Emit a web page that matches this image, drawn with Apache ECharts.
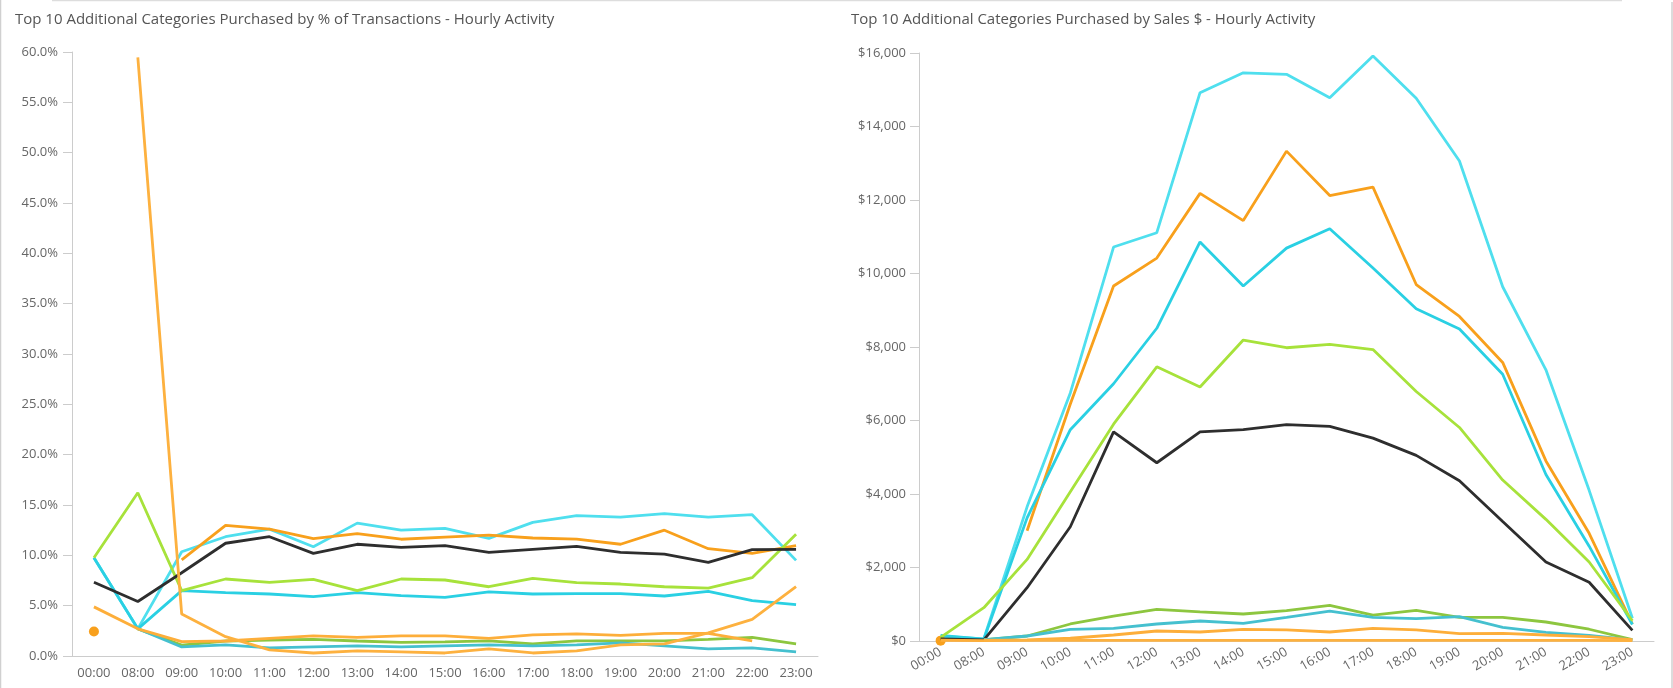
<!DOCTYPE html>
<html>
<head>
<meta charset="utf-8">
<script src="https://cdn.jsdelivr.net/npm/echarts@6/dist/echarts.min.js"></script>
<style>
html,body{margin:0;padding:0;background:#fff;}
#chart{width:1673px;height:688px;}
</style>
</head>
<body>
<div id="chart"></div>
<script>
const hours = ['00:00','08:00','09:00','10:00','11:00','12:00','13:00','14:00','15:00','16:00','17:00','18:00','19:00','20:00','21:00','22:00','23:00'];

const titleLeft = 'Top 10 Additional Categories Purchased by % of Transactions - Hourly Activity';
const titleRight = 'Top 10 Additional Categories Purchased by Sales $ - Hourly Activity';

const seriesNames = ['Category A','Category B','Category C','Category D','Category E','Category F','Category G','Category H','Category I'];
const seriesColors = ['#4FDFEE','#F8A01C','#2AD0E3','#A7E23B','#2E2E2E','#8DC63F','#45C0CF','#FDAE3A','#FDB13F'];

// % of transactions
const pctA = [9.76, 2.70, 10.36, 11.85, 12.6, 10.86, 13.2, 12.5, 12.68, 11.69, 13.28, 13.94, 13.8, 14.14, 13.8, 14.04, 9.5];
const pctB = [2.44, null, 9.54, 12.98, 12.6, 11.65, 12.15, 11.6, 11.8, 12.0, 11.72, 11.62, 11.1, 12.5, 10.66, 10.2, 10.96];
const pctC = [9.76, 2.70, 6.49, 6.29, 6.16, 5.9, 6.29, 5.99, 5.83, 6.36, 6.16, 6.19, 6.19, 5.96, 6.43, 5.5, 5.1];
const pctD = [9.76, 16.22, 6.49, 7.65, 7.32, 7.62, 6.49, 7.65, 7.55, 6.88, 7.72, 7.28, 7.15, 6.88, 6.75, 7.78, 12.1];
const pctE = [7.32, 5.41, 8.27, 11.2, 11.85, 10.2, 11.1, 10.8, 10.96, 10.3, 10.6, 10.9, 10.3, 10.13, 9.3, 10.56, 10.6];
const pctF = [null, 2.70, 1.09, 1.49, 1.59, 1.66, 1.49, 1.36, 1.4, 1.5, 1.2, 1.5, 1.5, 1.5, 1.66, 1.86, 1.2];
const pctG = [null, 2.70, 0.9, 1.1, 0.8, 0.9, 1.0, 0.9, 1.0, 1.1, 1.0, 1.1, 1.3, 1.0, 0.7, 0.8, 0.4];
const pctH = [4.88, 2.70, 1.42, 1.49, 1.76, 1.99, 1.86, 1.99, 1.99, 1.76, 2.09, 2.19, 2.05, 2.25, 2.25, 1.5, null];
const pctI = [null, 59.46, 4.17, 1.92, 0.6, 0.3, 0.5, 0.4, 0.3, 0.7, 0.3, 0.5, 1.1, 1.2, 2.3, 3.64, 6.9];

// Sales $
const salesA = [130, 60, 3650, 6750, 10720, 11110, 14920, 15460, 15420, 14780, 15920, 14770, 13060, 9640, 7380, 4100, 620];
const salesB = [10, null, 3000, 6450, 9660, 10420, 12180, 11440, 13330, 12120, 12350, 9700, 8830, 7580, 4900, 2930, 460];
const salesC = [150, 50, 3350, 5750, 7000, 8510, 10860, 9660, 10690, 11220, 10150, 9040, 8490, 7260, 4530, 2580, 450];
const salesD = [100, 906, 2220, 4060, 5900, 7460, 6910, 8190, 7980, 8070, 7930, 6790, 5810, 4380, 3310, 2150, 550];
const salesE = [60, 30, 1450, 3110, 5690, 4850, 5690, 5750, 5890, 5840, 5520, 5050, 4360, 3250, 2150, 1600, 290];
const salesF = [null, 30, 136, 463, 680, 862, 790, 735, 825, 970, 707, 835, 645, 645, 517, 320, 40];
const salesG = [null, 40, 136, 318, 345, 463, 544, 480, 645, 816, 645, 607, 662, 373, 237, 150, 30];
const salesH = [20, 10, 30, 75, 163, 272, 245, 318, 300, 245, 345, 300, 200, 210, 163, 120, 40];
const salesI = [null, 20, 15, 15, 15, 15, 15, 15, 15, 15, 15, 15, 15, 15, 15, 15, 10];

const pctSets = [pctA, pctB, pctC, pctD, pctE, pctF, pctG, pctH, pctI];
const salesSets = [salesA, salesB, salesC, salesD, salesE, salesF, salesG, salesH, salesI];

const FONT = '"Open Sans", "Noto Sans", sans-serif';
const axisLineColor = '#CCCCCC';
const labelColor = '#666666';

function makeSeries(sets, axisIdx) {
  return sets.map((d, i) => {
    const s = {
      name: seriesNames[i],
      type: 'line',
      xAxisIndex: axisIdx,
      yAxisIndex: axisIdx,
      data: d,
      connectNulls: false,
      showSymbol: false,
      symbol: 'circle',
      lineStyle: { width: 2.8, color: seriesColors[i] },
      itemStyle: { color: seriesColors[i] },
      emphasis: { disabled: true },
      z: 2 + i
    };
    if (i === 1) {
      s.showSymbol = true;
      s.symbolSize = function (v, p) { return p.dataIndex === 0 ? 10 : 0; };
    }
    return s;
  });
}

const chart = echarts.init(document.getElementById('chart'), null, { renderer: 'canvas' });

const commonX = {
  type: 'category',
  data: hours,
  boundaryGap: true,
  axisLine: { lineStyle: { color: axisLineColor, width: 1 } },
  axisTick: { alignWithLabel: true, length: 6, lineStyle: { color: axisLineColor } },
  splitLine: { show: false }
};

chart.setOption({
  animation: false,
  backgroundColor: '#ffffff',
  textStyle: { fontFamily: FONT },
  title: [
    { text: titleLeft, left: 10, top: 7, textStyle: { fontFamily: FONT, fontSize: 15, fontWeight: 'normal', color: '#555555' } },
    { text: titleRight, left: 846, top: 7, textStyle: { fontFamily: FONT, fontSize: 15, fontWeight: 'normal', color: '#555555' } }
  ],
  grid: [
    { left: 72, right: 855, top: 52, bottom: 32, containLabel: false },
    { left: 919, right: 19, top: 53, bottom: 47, containLabel: false }
  ],
  xAxis: [
    Object.assign({}, commonX, {
      gridIndex: 0,
      axisLabel: { interval: 0, color: labelColor, fontSize: 13, fontFamily: FONT, margin: 11 }
    }),
    Object.assign({}, commonX, {
      gridIndex: 1,
      axisLabel: { interval: 0, rotate: 30, color: labelColor, fontSize: 13, fontFamily: FONT, margin: 10 }
    })
  ],
  yAxis: [
    {
      type: 'value', gridIndex: 0, min: 0, max: 60, interval: 5,
      axisLine: { show: true, lineStyle: { color: axisLineColor } },
      axisTick: { show: true, length: 9, lineStyle: { color: axisLineColor } },
      splitLine: { show: false },
      axisLabel: { color: labelColor, fontSize: 13, fontFamily: FONT, margin: 14,
        formatter: v => v.toFixed(1) + '%' }
    },
    {
      type: 'value', gridIndex: 1, min: 0, max: 16000, interval: 2000,
      axisLine: { show: true, lineStyle: { color: axisLineColor } },
      axisTick: { show: true, length: 9, lineStyle: { color: axisLineColor } },
      splitLine: { show: false },
      axisLabel: { color: labelColor, fontSize: 13, fontFamily: FONT, margin: 13,
        formatter: v => '$' + v.toLocaleString('en-US') }
    }
  ],
  graphic: [
    { type: 'line', shape: { x1: 52, y1: 0.5, x2: 1622, y2: 0.5 }, style: { stroke: '#dddddd', lineWidth: 1.5 }, silent: true },
    { type: 'line', shape: { x1: 0.5, y1: 0, x2: 0.5, y2: 688 }, style: { stroke: '#d0d0d0', lineWidth: 1.5 }, silent: true },
    { type: 'line', shape: { x1: 1672, y1: 2, x2: 1672, y2: 688 }, style: { stroke: '#d0d0d0', lineWidth: 1.5 }, silent: true }
  ],
  series: makeSeries(pctSets, 0).concat(makeSeries(salesSets, 1))
});
</script>
</body>
</html>
